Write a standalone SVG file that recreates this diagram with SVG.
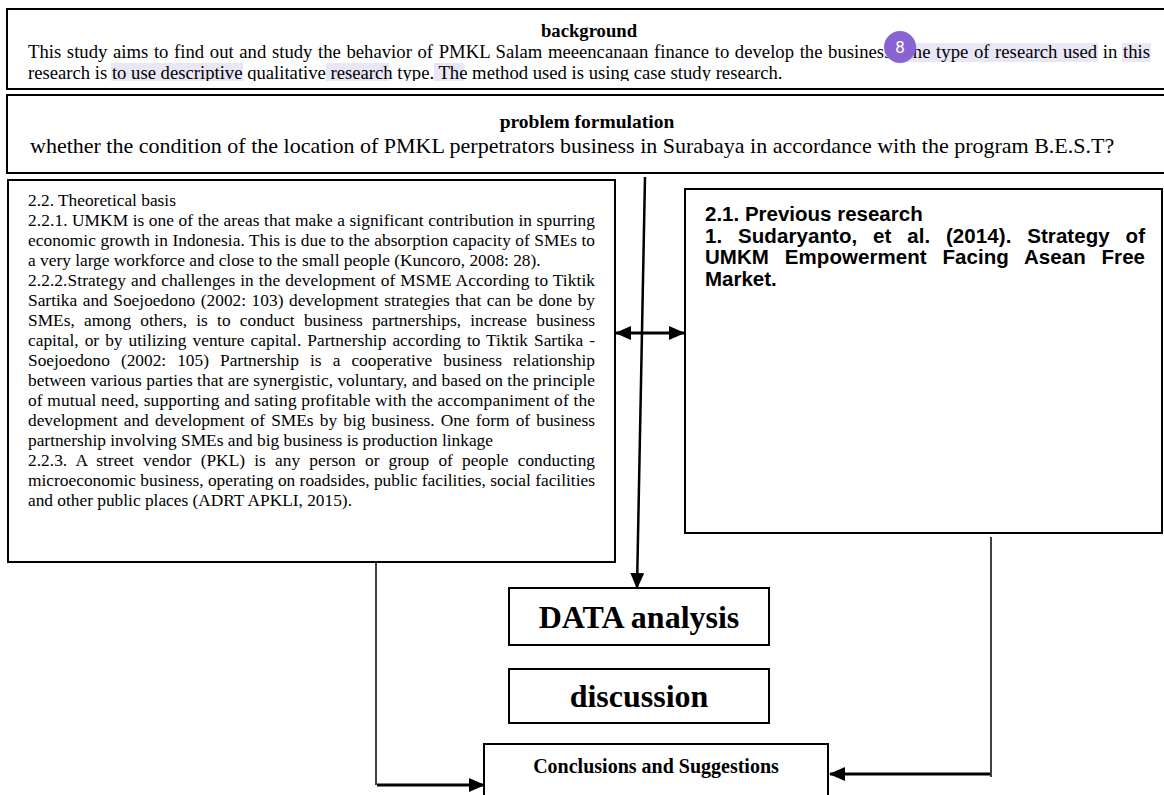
<svg xmlns="http://www.w3.org/2000/svg" width="1164" height="795" viewBox="0 0 1164 795">
<style>
.box{fill:#fff;stroke:#000;stroke-width:2}
.tnr{font-family:"Liberation Serif","Times New Roman",serif;fill:#000}
.arl{font-family:"Liberation Sans",Arial,sans-serif;font-weight:bold;fill:#000}
.b{font-weight:bold}
.hl{fill:#e9e6f6}
.wire{fill:none;stroke:#000}
.body{font-size:17.33px}
</style>
<defs>
<marker id="head" viewBox="0 0 16 14" markerWidth="16" markerHeight="14" refX="15" refY="7" orient="auto-start-reverse" markerUnits="userSpaceOnUse">
<path d="M0,0 L16,7 L0,14 z" fill="#000"/>
</marker>
<clipPath id="bgClip"><rect x="0" y="9" width="1164" height="72"/></clipPath>
</defs>
<rect width="1164" height="795" fill="#fff"/>

<!-- background -->
<g id="background">
<rect class="box" x="7" y="9" width="1170" height="80"/>
<text class="tnr b" x="589" y="37" font-size="18.67" text-anchor="middle">background</text>
<g clip-path="url(#bgClip)">
<rect class="hl" x="904" y="43" width="194" height="19"/>
<rect class="hl" x="1122" y="43" width="29" height="19"/>
<rect class="hl" x="111" y="63" width="132" height="19"/>
<rect class="hl" x="326" y="63" width="63" height="19"/>
<rect class="hl" x="434" y="63" width="30" height="19"/>
<text class="tnr" font-size="18.67">
<tspan x="28" y="58" word-spacing="0.96" textLength="1122" lengthAdjust="spacing">This study aims to find out and study the behavior of PMKL Salam meeencanaan finance to develop the business. The type of research used in this</tspan>
<tspan x="28" y="79">research is to use descriptive qualitative research type. The method used is using case study research.</tspan>
</text>
</g>
<circle cx="900" cy="47" r="16" fill="#8a63d2"/>
<text x="900" y="53" font-family="Roboto,'Liberation Sans',sans-serif" font-size="17" fill="#fff" text-anchor="middle">8</text>
</g>

<!-- problem formulation -->
<g id="problem">
<rect class="box" x="7" y="95" width="1170" height="78"/>
<text class="tnr b" x="587" y="128" font-size="19.5" text-anchor="middle">problem formulation</text>
<text class="tnr" x="30" y="153" font-size="22">whether the condition of the location of PMKL perpetrators business in Surabaya in accordance with the program B.E.S.T?</text>
</g>

<!-- theoretical basis -->
<g id="theory">
<rect class="box" x="8" y="180" width="607" height="382"/>
<text class="tnr body">
<tspan x="28" y="206">2.2. Theoretical basis</tspan>
<tspan x="28" y="226" textLength="567" lengthAdjust="spacing">2.2.1. UMKM is one of the areas that make a significant contribution in spurring</tspan>
<tspan x="28" y="246" textLength="567" lengthAdjust="spacing">economic growth in Indonesia. This is due to the absorption capacity of SMEs to</tspan>
<tspan x="28" y="266">a very large workforce and close to the small people (Kuncoro, 2008: 28).</tspan>
<tspan x="28" y="286" word-spacing="0.5" textLength="567" lengthAdjust="spacing">2.2.2.Strategy and challenges in the development of MSME According to Tiktik</tspan>
<tspan x="28" y="306" word-spacing="1.2" textLength="567" lengthAdjust="spacing">Sartika and Soejoedono (2002: 103) development strategies that can be done by</tspan>
<tspan x="28" y="326" word-spacing="4.9" textLength="567" lengthAdjust="spacing">SMEs, among others, is to conduct business partnerships, increase business</tspan>
<tspan x="28" y="346" word-spacing="1.7" textLength="567" lengthAdjust="spacing">capital, or by utilizing venture capital. Partnership according to Tiktik Sartika -</tspan>
<tspan x="28" y="366" word-spacing="6.7" textLength="567" lengthAdjust="spacing">Soejoedono (2002: 105) Partnership is a cooperative business relationship</tspan>
<tspan x="28" y="386" textLength="567" lengthAdjust="spacing">between various parties that are synergistic, voluntary, and based on the principle</tspan>
<tspan x="28" y="406" textLength="567" lengthAdjust="spacing">of mutual need, supporting and sating profitable with the accompaniment of the</tspan>
<tspan x="28" y="426" word-spacing="1.8" textLength="567" lengthAdjust="spacing">development and development of SMEs by big business. One form of business</tspan>
<tspan x="28" y="446">partnership involving SMEs and big business is production linkage</tspan>
<tspan x="28" y="466" word-spacing="4.8" textLength="567" lengthAdjust="spacing">2.2.3. A street vendor (PKL) is any person or group of people conducting</tspan>
<tspan x="28" y="486" textLength="567" lengthAdjust="spacing">microeconomic business, operating on roadsides, public facilities, social facilities</tspan>
<tspan x="28" y="506">and other public places (ADRT APKLI, 2015).</tspan>
</text>
</g>

<!-- previous research -->
<g id="previous">
<rect class="box" x="685" y="189" width="477" height="344"/>
<text class="arl" font-size="20.5">
<tspan x="705" y="221">2.1. Previous research</tspan>
<tspan x="705" y="243" word-spacing="10" textLength="440" lengthAdjust="spacing">1. Sudaryanto, et al. (2014). Strategy of</tspan>
<tspan x="705" y="264" word-spacing="10" textLength="440" lengthAdjust="spacing">UMKM Empowerment Facing Asean Free</tspan>
<tspan x="705" y="286">Market.</tspan>
</text>
</g>

<!-- data analysis -->
<g id="analysis">
<rect class="box" x="509" y="588" width="260" height="57"/>
<text class="tnr b" x="639" y="628" font-size="32" text-anchor="middle">DATA analysis</text>
</g>

<!-- discussion -->
<g id="discussion">
<rect class="box" x="509" y="669" width="260" height="54"/>
<text class="tnr b" x="639" y="707" font-size="32" text-anchor="middle">discussion</text>
</g>

<!-- conclusions -->
<g id="conclusions">
<rect class="box" x="484" y="744" width="344" height="60"/>
<text class="tnr b" x="656" y="773" font-size="20" text-anchor="middle">Conclusions and Suggestions</text>
</g>

<!-- connectors -->
<g id="connectors">
<line class="wire" x1="645" y1="177" x2="637" y2="588" stroke-width="2.5" marker-end="url(#head)"/>
<line class="wire" x1="616" y1="333" x2="684" y2="333" stroke-width="3" marker-start="url(#head)" marker-end="url(#head)"/>
<path class="wire" d="M376,562 V785" stroke-width="1.5"/>
<path class="wire" d="M377,785 H484" stroke-width="3" marker-end="url(#head)"/>
<path class="wire" d="M991,537 V777" stroke-width="1.5"/>
<path class="wire" d="M990,774 H830" stroke-width="3" marker-end="url(#head)"/>
</g>
</svg>
